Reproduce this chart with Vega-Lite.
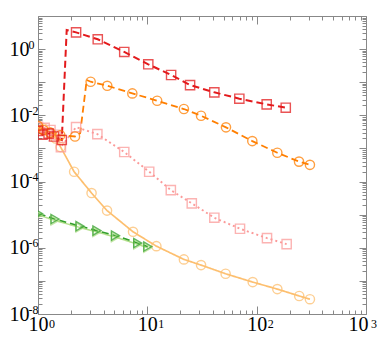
{
  "$schema": "https://vega.github.io/schema/vega-lite/v6.json",
  "width": 328,
  "height": 298,
  "autosize": "none",
  "padding": {"left": 38, "top": 16, "right": 14, "bottom": 24},
  "background": "white",
  "config": {
    "view": {"stroke": null},
    "axis": {
      "grid": false,
      "title": null,
      "domainColor": "#888888",
      "domainWidth": 1,
      "tickColor": "#888888",
      "tickWidth": 1,
      "labelFont": "Liberation Serif",
      "labelFontSize": 20,
      "labelColor": "#000000",
      "labelOverlap": false,
      "labelBound": false,
      "labelFlush": false
    }
  },
  "datasets": {
    "lines": [
      {"series": "B2", "x": 1.0, "y": 4.5e-3},
      {"series": "B2", "x": 1.12, "y": 4.0e-3},
      {"series": "B2", "x": 1.28, "y": 3.0e-3},
      {"series": "B2", "x": 1.45, "y": 2.0e-3},
      {"series": "B2", "x": 1.61, "y": 1.1e-3},
      {"series": "B2", "x": 2.14, "y": 1.98e-4},
      {"series": "B2", "x": 3.09, "y": 4.5e-5},
      {"series": "B2", "x": 4.28, "y": 1.33e-5},
      {"series": "B2", "x": 7.4, "y": 3.04e-6},
      {"series": "B2", "x": 12.1, "y": 1.12e-6},
      {"series": "B2", "x": 21.6, "y": 4.45e-7},
      {"series": "B2", "x": 31, "y": 3.0e-7},
      {"series": "B2", "x": 52, "y": 1.64e-7},
      {"series": "B2", "x": 92, "y": 9.2e-8},
      {"series": "B2", "x": 154.5, "y": 5.65e-8},
      {"series": "B2", "x": 245, "y": 3.5e-8},
      {"series": "B2", "x": 307, "y": 2.8e-8},
      {"series": "A2", "x": 1.0, "y": 4.5e-3},
      {"series": "A2", "x": 1.15, "y": 4.2e-3},
      {"series": "A2", "x": 1.3, "y": 3.6e-3},
      {"series": "A2", "x": 1.45, "y": 2.6e-3},
      {"series": "A2", "x": 1.62, "y": 1.1e-3},
      {"series": "A2", "x": 2.23, "y": 4.4e-3},
      {"series": "A2", "x": 3.49, "y": 2.7e-3},
      {"series": "A2", "x": 6.15, "y": 7.8e-4},
      {"series": "A2", "x": 10.4, "y": 1.98e-4},
      {"series": "A2", "x": 16.4, "y": 5.5e-5},
      {"series": "A2", "x": 25.5, "y": 2.2e-5},
      {"series": "A2", "x": 41, "y": 8.1e-6},
      {"series": "A2", "x": 70.4, "y": 3.75e-6},
      {"series": "A2", "x": 124.3, "y": 1.96e-6},
      {"series": "A2", "x": 188, "y": 1.29e-6},
      {"series": "C2", "x": 1.01, "y": 9.8e-6},
      {"series": "C2", "x": 1.43, "y": 6.7e-6},
      {"series": "C2", "x": 2.42, "y": 4.1e-6},
      {"series": "C2", "x": 3.46, "y": 3.0e-6},
      {"series": "C2", "x": 5.11, "y": 2.1e-6},
      {"series": "C2", "x": 8.17, "y": 1.27e-6},
      {"series": "C2", "x": 10.1, "y": 1.0e-6},
      {"series": "C1", "x": 1.01, "y": 1.08e-5},
      {"series": "C1", "x": 1.43, "y": 7.4e-6},
      {"series": "C1", "x": 2.42, "y": 4.5e-6},
      {"series": "C1", "x": 3.46, "y": 3.3e-6},
      {"series": "C1", "x": 5.11, "y": 2.34e-6},
      {"series": "C1", "x": 8.17, "y": 1.39e-6},
      {"series": "C1", "x": 10.1, "y": 1.09e-6},
      {"series": "B1", "x": 1.0, "y": 4.8e-3},
      {"series": "B1", "x": 1.12, "y": 3.6e-3},
      {"series": "B1", "x": 1.3, "y": 3.0e-3},
      {"series": "B1", "x": 1.6, "y": 2.5e-3},
      {"series": "B1", "x": 2.18, "y": 2.3e-3},
      {"series": "B1", "x": 2.43, "y": 2.9e-3},
      {"series": "B1", "x": 2.79, "y": 0.117},
      {"series": "B1", "x": 3.03, "y": 0.1035},
      {"series": "B1", "x": 4.3, "y": 0.078},
      {"series": "B1", "x": 7.29, "y": 0.046},
      {"series": "B1", "x": 12.3, "y": 0.0276},
      {"series": "B1", "x": 21.6, "y": 0.0155},
      {"series": "B1", "x": 31, "y": 0.0097},
      {"series": "B1", "x": 52.4, "y": 0.00434},
      {"series": "B1", "x": 91.2, "y": 0.00167},
      {"series": "B1", "x": 154.5, "y": 7.4e-4},
      {"series": "B1", "x": 244, "y": 4.0e-4},
      {"series": "B1", "x": 307, "y": 3.2e-4},
      {"series": "A1", "x": 1.0, "y": 3.4e-3},
      {"series": "A1", "x": 1.1, "y": 2.6e-3},
      {"series": "A1", "x": 1.25, "y": 2.8e-3},
      {"series": "A1", "x": 1.4, "y": 2.3e-3},
      {"series": "A1", "x": 1.65, "y": 1.8e-3},
      {"series": "A1", "x": 1.83, "y": 3.8},
      {"series": "A1", "x": 2.23, "y": 3.2},
      {"series": "A1", "x": 3.52, "y": 1.98},
      {"series": "A1", "x": 6.15, "y": 0.82},
      {"series": "A1", "x": 10.2, "y": 0.348},
      {"series": "A1", "x": 16.5, "y": 0.165},
      {"series": "A1", "x": 24.6, "y": 0.082},
      {"series": "A1", "x": 41, "y": 0.0495},
      {"series": "A1", "x": 69.4, "y": 0.0318},
      {"series": "A1", "x": 123.5, "y": 0.0215},
      {"series": "A1", "x": 184.5, "y": 0.017}
    ],
    "points": [
      {"series": "B2", "x": 1.0, "y": 4.5e-3},
      {"series": "B2", "x": 1.12, "y": 4.0e-3},
      {"series": "B2", "x": 1.28, "y": 3.0e-3},
      {"series": "B2", "x": 1.45, "y": 2.0e-3},
      {"series": "B2", "x": 1.61, "y": 1.1e-3},
      {"series": "B2", "x": 2.14, "y": 1.98e-4},
      {"series": "B2", "x": 3.09, "y": 4.5e-5},
      {"series": "B2", "x": 4.28, "y": 1.33e-5},
      {"series": "B2", "x": 7.4, "y": 3.04e-6},
      {"series": "B2", "x": 12.1, "y": 1.12e-6},
      {"series": "B2", "x": 21.6, "y": 4.45e-7},
      {"series": "B2", "x": 31, "y": 3.0e-7},
      {"series": "B2", "x": 52, "y": 1.64e-7},
      {"series": "B2", "x": 92, "y": 9.2e-8},
      {"series": "B2", "x": 154.5, "y": 5.65e-8},
      {"series": "B2", "x": 245, "y": 3.5e-8},
      {"series": "B2", "x": 307, "y": 2.8e-8},
      {"series": "A2", "x": 1.0, "y": 4.5e-3},
      {"series": "A2", "x": 1.15, "y": 4.2e-3},
      {"series": "A2", "x": 1.3, "y": 3.6e-3},
      {"series": "A2", "x": 1.45, "y": 2.6e-3},
      {"series": "A2", "x": 1.62, "y": 1.1e-3},
      {"series": "A2", "x": 2.23, "y": 4.4e-3},
      {"series": "A2", "x": 3.49, "y": 2.7e-3},
      {"series": "A2", "x": 6.15, "y": 7.8e-4},
      {"series": "A2", "x": 10.4, "y": 1.98e-4},
      {"series": "A2", "x": 16.4, "y": 5.5e-5},
      {"series": "A2", "x": 25.5, "y": 2.2e-5},
      {"series": "A2", "x": 41, "y": 8.1e-6},
      {"series": "A2", "x": 70.4, "y": 3.75e-6},
      {"series": "A2", "x": 124.3, "y": 1.96e-6},
      {"series": "A2", "x": 188, "y": 1.29e-6},
      {"series": "C2", "x": 1.01, "y": 9.8e-6},
      {"series": "C2", "x": 1.43, "y": 6.7e-6},
      {"series": "C2", "x": 2.42, "y": 4.1e-6},
      {"series": "C2", "x": 3.46, "y": 3.0e-6},
      {"series": "C2", "x": 5.11, "y": 2.1e-6},
      {"series": "C2", "x": 8.17, "y": 1.27e-6},
      {"series": "C2", "x": 10.1, "y": 1.0e-6},
      {"series": "C1", "x": 1.01, "y": 1.08e-5},
      {"series": "C1", "x": 1.43, "y": 7.4e-6},
      {"series": "C1", "x": 2.42, "y": 4.5e-6},
      {"series": "C1", "x": 3.46, "y": 3.3e-6},
      {"series": "C1", "x": 5.11, "y": 2.34e-6},
      {"series": "C1", "x": 8.17, "y": 1.39e-6},
      {"series": "C1", "x": 10.1, "y": 1.09e-6},
      {"series": "B1", "x": 1.0, "y": 4.8e-3},
      {"series": "B1", "x": 1.12, "y": 3.6e-3},
      {"series": "B1", "x": 1.3, "y": 3.0e-3},
      {"series": "B1", "x": 1.6, "y": 2.5e-3},
      {"series": "B1", "x": 2.18, "y": 2.3e-3},
      {"series": "B1", "x": 3.03, "y": 0.1035},
      {"series": "B1", "x": 4.3, "y": 0.078},
      {"series": "B1", "x": 7.29, "y": 0.046},
      {"series": "B1", "x": 12.3, "y": 0.0276},
      {"series": "B1", "x": 21.6, "y": 0.0155},
      {"series": "B1", "x": 31, "y": 0.0097},
      {"series": "B1", "x": 52.4, "y": 0.00434},
      {"series": "B1", "x": 91.2, "y": 0.00167},
      {"series": "B1", "x": 154.5, "y": 7.4e-4},
      {"series": "B1", "x": 244, "y": 4.0e-4},
      {"series": "B1", "x": 307, "y": 3.2e-4},
      {"series": "A1", "x": 1.0, "y": 3.4e-3},
      {"series": "A1", "x": 1.1, "y": 2.6e-3},
      {"series": "A1", "x": 1.25, "y": 2.8e-3},
      {"series": "A1", "x": 1.4, "y": 2.3e-3},
      {"series": "A1", "x": 1.65, "y": 1.8e-3},
      {"series": "A1", "x": 2.23, "y": 3.2},
      {"series": "A1", "x": 3.52, "y": 1.98},
      {"series": "A1", "x": 6.15, "y": 0.82},
      {"series": "A1", "x": 10.2, "y": 0.348},
      {"series": "A1", "x": 16.5, "y": 0.165},
      {"series": "A1", "x": 24.6, "y": 0.082},
      {"series": "A1", "x": 41, "y": 0.0495},
      {"series": "A1", "x": 69.4, "y": 0.0318},
      {"series": "A1", "x": 123.5, "y": 0.0215},
      {"series": "A1", "x": 184.5, "y": 0.017}
    ]
  },
  "resolve": {"axis": {"x": "independent", "y": "independent"}},
  "layer": [
    {
      "data": {"name": "lines"},
      "mark": {"type": "line", "clip": true},
      "encoding": {
        "x": {
          "field": "x", "type": "quantitative",
          "scale": {"type": "log", "domain": [1, 1000], "nice": false},
          "axis": {
            "orient": "bottom",
            "values": [1,2,3,4,5,6,7,8,9,10,20,30,40,50,60,70,80,90,100,200,300,400,500,600,700,800,900,1000],
            "tickSize": {"condition": {"test": "abs(log(datum.value)/LN10 - round(log(datum.value)/LN10)) < 0.001", "value": -8}, "value": -4},
            "labelPadding": 8,
            "labelAlign": {"condition": {"test": "datum.value >= 999", "value": "right"}, "value": "center"},
            "labelOffset": {"condition": {"test": "datum.value >= 999", "value": 2}, "value": 0},
            "labelExpr": "abs(log(datum.value)/LN10 - round(log(datum.value)/LN10)) > 0.001 ? '' : '10'"
          }
        },
        "y": {
          "field": "y", "type": "quantitative",
          "scale": {"type": "log", "domain": [1e-8, 10], "nice": false},
          "axis": {
            "orient": "left",
            "values": [1e-8,2e-8,3e-8,4e-8,5e-8,6e-8,7e-8,8e-8,9e-8,1e-7,2e-7,3e-7,4e-7,5e-7,6e-7,7e-7,8e-7,9e-7,1e-6,2e-6,3e-6,4e-6,5e-6,6e-6,7e-6,8e-6,9e-6,1e-5,2e-5,3e-5,4e-5,5e-5,6e-5,7e-5,8e-5,9e-5,1e-4,2e-4,3e-4,4e-4,5e-4,6e-4,7e-4,8e-4,9e-4,1e-3,2e-3,3e-3,4e-3,5e-3,6e-3,7e-3,8e-3,9e-3,1e-2,2e-2,3e-2,4e-2,5e-2,6e-2,7e-2,8e-2,9e-2,0.1,0.2,0.3,0.4,0.5,0.6,0.7,0.8,0.9,1,2,3,4,5,6,7,8,9,10],
            "tickSize": {"condition": {"test": "abs(log(datum.value)/LN10 - round(log(datum.value)/LN10)) < 0.001", "value": -7}, "value": -4},
            "labelPadding": 16,
            "labelAlign": "right",
            "labelBaseline": "middle",
            "labelExpr": "abs(log(datum.value)/LN10 - round(log(datum.value)/LN10)) > 0.001 ? '' : (round(log(datum.value)/LN10) % 2 == 0 ? '10' : '')"
          }
        },
        "detail": {"field": "series"},
        "color": {
          "field": "series", "type": "nominal", "legend": null,
          "scale": {"domain": ["A1", "A2", "B1", "B2", "C1", "C2"], "range": ["#e31a1c", "#fb9a99", "#ff7f00", "#fdbf6f", "#33a02c", "#b2df8a"]}
        },
        "strokeDash": {
          "field": "series", "type": "nominal", "legend": null,
          "scale": {"domain": ["A1", "A2", "B1", "B2", "C1", "C2"], "range": [[7, 4], [2, 3], [7, 4], [1, 0], [7, 4], [1, 0]]}
        },
        "strokeWidth": {
          "field": "series", "type": "nominal", "legend": null,
          "scale": {"domain": ["A1", "A2", "B1", "B2", "C1", "C2"], "range": [2, 1.5, 2, 1.5, 2, 2]}
        }
      }
    },
    {
      "data": {"name": "points"},
      "mark": {"type": "point", "filled": false, "strokeWidth": 1.4, "opacity": 0.75, "clip": true},
      "encoding": {
        "x": {
          "field": "x", "type": "quantitative",
          "axis": {
            "orient": "bottom",
            "values": [1, 10, 100, 1000],
            "ticks": false,
            "domain": false,
            "labelFontSize": 12,
            "labelPadding": 4,
            "labelAlign": {"condition": {"test": "datum.value >= 999", "value": "right"}, "value": "left"},
            "labelOffset": 10.5,
            "labelExpr": "'' + round(log(datum.value)/LN10)"
          }
        },
        "y": {
          "field": "y", "type": "quantitative",
          "axis": {
            "orient": "left",
            "values": [1e-8, 1e-6, 1e-4, 1e-2, 1],
            "ticks": false,
            "domain": false,
            "labelFontSize": 12,
            "labelPadding": 10,
            "labelAlign": "left",
            "labelBaseline": "middle",
            "labelOffset": -5,
            "labelExpr": "'' + round(log(datum.value)/LN10)"
          }
        },
        "color": {"field": "series", "type": "nominal", "legend": null},
        "shape": {
          "field": "series", "type": "nominal", "legend": null,
          "scale": {"domain": ["A1", "A2", "B1", "B2", "C1", "C2"], "range": ["square", "square", "circle", "circle", "triangle-right", "triangle-right"]}
        },
        "size": {
          "field": "series", "type": "nominal", "legend": null,
          "scale": {"domain": ["A1", "A2", "B1", "B2", "C1", "C2"], "range": [85, 85, 120, 120, 85, 85]}
        }
      }
    },
    {
      "data": {"name": "points"},
      "mark": {"type": "point", "opacity": 0},
      "encoding": {
        "x": {
          "field": "x", "type": "quantitative",
          "axis": {
            "orient": "top",
            "values": [1,2,3,4,5,6,7,8,9,10,20,30,40,50,60,70,80,90,100,200,300,400,500,600,700,800,900,1000],
            "tickSize": {"condition": {"test": "abs(log(datum.value)/LN10 - round(log(datum.value)/LN10)) < 0.001", "value": -8}, "value": -4},
            "labels": false
          }
        },
        "y": {
          "field": "y", "type": "quantitative",
          "axis": {
            "orient": "right",
            "values": [1e-8,2e-8,3e-8,4e-8,5e-8,6e-8,7e-8,8e-8,9e-8,1e-7,2e-7,3e-7,4e-7,5e-7,6e-7,7e-7,8e-7,9e-7,1e-6,2e-6,3e-6,4e-6,5e-6,6e-6,7e-6,8e-6,9e-6,1e-5,2e-5,3e-5,4e-5,5e-5,6e-5,7e-5,8e-5,9e-5,1e-4,2e-4,3e-4,4e-4,5e-4,6e-4,7e-4,8e-4,9e-4,1e-3,2e-3,3e-3,4e-3,5e-3,6e-3,7e-3,8e-3,9e-3,1e-2,2e-2,3e-2,4e-2,5e-2,6e-2,7e-2,8e-2,9e-2,0.1,0.2,0.3,0.4,0.5,0.6,0.7,0.8,0.9,1,2,3,4,5,6,7,8,9,10],
            "tickSize": {"condition": {"test": "abs(log(datum.value)/LN10 - round(log(datum.value)/LN10)) < 0.001", "value": -7}, "value": -4},
            "labels": false
          }
        }
      }
    }
  ]
}
